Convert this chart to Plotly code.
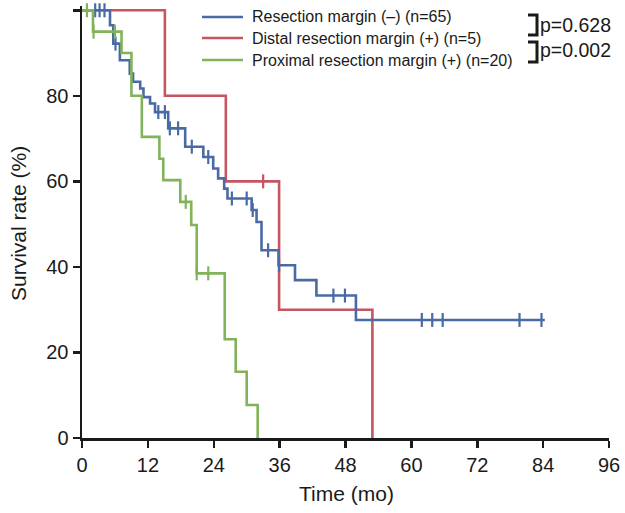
import numpy as np
import plotly.graph_objects as go

# ---------------- data ----------------
series_names = ["Resection margin (–) (n=65)",
                "Distal resection margin (+) (n=5)",
                "Proximal resection margin (+) (n=20)"]

blue_times = [0, 5.1, 5.7, 6.9, 8.7, 9.3, 10.6, 11.2, 12.4, 13.3, 15.7, 18.8, 22.1, 23.9,
              24.8, 25.9, 26.5, 30.9, 31.8, 32.7, 35.8, 38.8, 42.7, 49.9]
blue_surv = [100, 96.5, 92.2, 88.3, 85.2, 83.3, 81.7, 79.7, 78.2, 76.2, 72.4, 68.1, 65.7, 63.0,
             60.7, 58.3, 56.0, 53.3, 50.5, 43.9, 40.4, 36.9, 33.3, 27.6]
blue_end = 84.3
blue_censor = [2.4, 3.2, 4.1, 6.1, 13.9, 15.1, 16.0, 17.5, 20.0, 23.0, 27.3, 30.0, 31.1,
               33.9, 35.9, 45.8, 47.9, 61.9, 63.8, 65.7, 79.7, 83.7]

red_times = [0, 15.1, 26.2, 35.9, 52.9]
red_surv = [100, 80, 60, 30, 0]
red_end = 52.9
red_censor = [33.0]

green_times = [0, 2.0, 7.2, 9.0, 10.9, 14.1, 14.8, 17.9, 19.9, 20.9, 26.0, 28.0, 30.0, 32.0]
green_surv = [100, 95, 90, 80, 70.4, 65.3, 60.3, 55.2, 49.8, 38.5, 23.1, 15.5, 7.7, 0]
green_end = 32.0
green_censor = [0.9, 2.1, 6.0, 18.9, 20.9, 23.0]

p_labels = ["p=0.628", "p=0.002"]

x_ticks = [0, 12, 24, 36, 48, 60, 72, 84, 96]
y_ticks = [0, 20, 40, 60, 80, 100]

x_title = "Time (mo)"
y_title = "Survival rate (%)"

colors = ["#4a6aa6", "#c45561", "#82b35a"]
INK = "#1a1a1a"
FONT = "Liberation Sans Narrow, Arial Narrow, Liberation Sans, Arial, sans-serif"

series = [
    (blue_times, blue_surv, blue_end, blue_censor),
    (red_times, red_surv, red_end, red_censor),
    (green_times, green_surv, green_end, green_censor),
]

fig = go.Figure()

draw_order = [1, 0, 2]
for i in draw_order:
    t, s, end, cens = series[i]
    xs = list(t) + [end]
    ys = list(s) + [s[-1]]
    fig.add_trace(go.Scatter(x=xs, y=ys, mode="lines",
                             line=dict(color=colors[i], width=2.6, shape="hv"),
                             name=series_names[i], showlegend=False, hoverinfo="skip"))
    idx = np.searchsorted(np.array(t), np.array(cens), side="right") - 1
    cy = [s[k] for k in idx]
    fig.add_trace(go.Scatter(x=cens, y=cy, mode="markers",
                             marker=dict(symbol="line-ns-open", size=10, color=colors[i],
                                         line=dict(color=colors[i], width=2.2)),
                             showlegend=False, hoverinfo="skip", cliponaxis=False))

# plot area geometry (pixels)
L, R, T, B = 82, 16, 6, 75
W, H = 625, 513
pw, ph = W - L - R, H - T - B

def px(x):
    return (x - L) / pw

def py(y):
    return (H - B - y) / ph

shapes = []
annotations = []
# legend (manual)
leg_y = [17, 38, 60]
for i in range(3):
    shapes.append(dict(type="line", xref="paper", yref="paper", x0=px(202), x1=px(243),
                       y0=py(leg_y[i]), y1=py(leg_y[i]), line=dict(color=colors[i], width=2.6)))
    annotations.append(dict(xref="paper", yref="paper", x=px(250), y=py(leg_y[i]),
                            text=series_names[i], showarrow=False, xanchor="left", yanchor="middle",
                            font=dict(family=FONT, size=16, color=INK)))
# brackets
for (y0, y1) in [(15, 35), (42, 62)]:
    shapes.append(dict(type="path", xref="paper", yref="paper",
                       path=f"M {px(528)} {py(y0)} L {px(537)} {py(y0)} L {px(537)} {py(y1)} L {px(528)} {py(y1)}",
                       line=dict(color=INK, width=3)))
for k, yc in enumerate([25, 50]):
    annotations.append(dict(xref="paper", yref="paper", x=px(538), y=py(yc), text=p_labels[k],
                            showarrow=False, xanchor="left", yanchor="middle",
                            font=dict(family=FONT, size=19.5, color=INK)))
# axis titles
annotations.append(dict(xref="paper", yref="paper", x=px(346), y=py(493), text=x_title,
                        showarrow=False, xanchor="center", yanchor="middle",
                        font=dict(family=FONT, size=21, color=INK)))
annotations.append(dict(xref="paper", yref="paper", x=px(18), y=py(224), text=y_title,
                        showarrow=False, xanchor="center", yanchor="middle", textangle=-90,
                        font=dict(family=FONT, size=21, color=INK)))

fig.update_layout(
    width=W, height=H,
    margin=dict(l=L, r=R, t=T, b=B, pad=0),
    paper_bgcolor="white", plot_bgcolor="white",
    shapes=shapes, annotations=annotations,
    font=dict(family=FONT, color=INK),
    hovermode=False,
    xaxis=dict(range=[0, 96], tickvals=x_ticks, ticktext=[str(v) for v in x_ticks],
               showgrid=False, zeroline=False, showline=True, linecolor=INK, linewidth=2.5,
               ticks="outside", ticklen=7, tickwidth=2.5, tickcolor=INK,
               tickfont=dict(family=FONT, size=20, color=INK)),
    yaxis=dict(range=[0, 101], tickvals=y_ticks, ticktext=[str(v) for v in y_ticks],
               showgrid=False, zeroline=False, showline=True, linecolor=INK, linewidth=2.5,
               ticks="outside", ticklen=7, tickwidth=2.5, tickcolor=INK,
               tickfont=dict(family=FONT, size=20, color=INK)),
)

fig.write_html("out.html",
               config={"displayModeBar": False, "staticPlot": True},
               post_script="document.body.style.margin='0';document.body.style.padding='0';")
